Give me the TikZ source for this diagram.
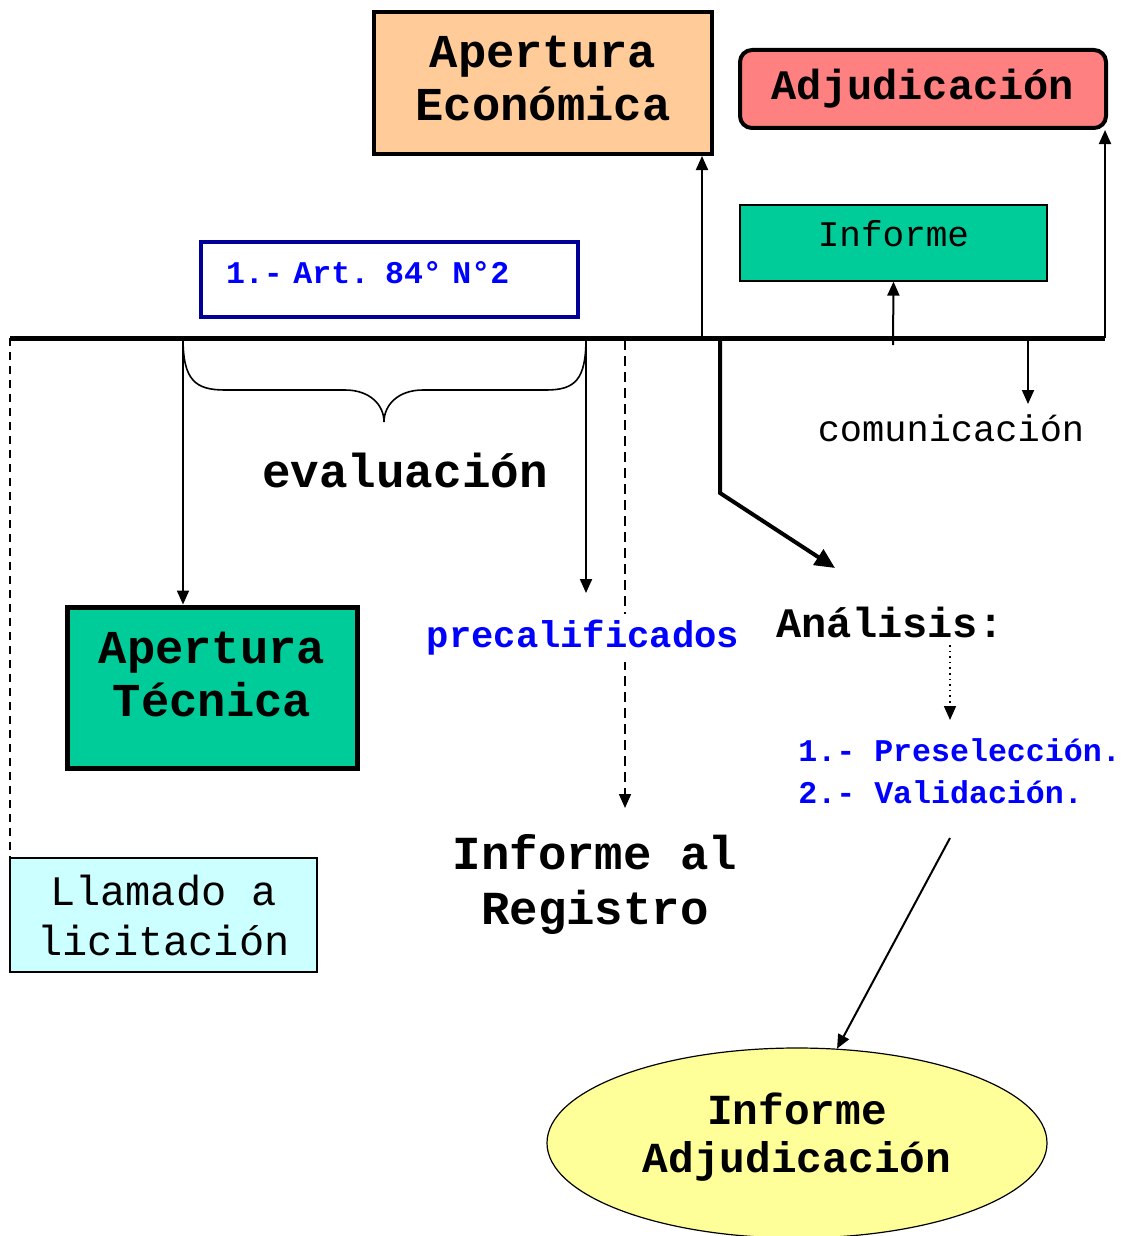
\documentclass[tikz,border=0pt]{standalone}
\usepackage{fontspec}
\setmainfont{Liberation Mono}
\usetikzlibrary{arrows.meta,shapes.geometric}

\definecolor{peach}{HTML}{FFCC99}
\definecolor{salmon}{HTML}{FF8080}
\definecolor{sea}{HTML}{00CC99}
\definecolor{paleblue}{HTML}{CCFFFF}
\definecolor{paleyellow}{HTML}{FFFF99}
\definecolor{navy}{HTML}{000099}
\definecolor{pureblue}{HTML}{0000FF}

\def\fbig{\bfseries\fontsize{23.6}{26.5}\selectfont}
\def\fmid{\bfseries\fontsize{21}{24}\selectfont}
\def\fsmall{\bfseries\fontsize{15.8}{21}\selectfont}

\tikzset{
	box/.style={draw, line width=2pt, align=center, inner sep=0pt},
	thinbox/.style={draw, line width=0.6pt, align=center, inner sep=0pt},
	label/.style={align=center, inner sep=0pt},
	conn/.style={line width=1pt, -{Triangle[length=7pt,width=6pt]}},
	bigconn/.style={line width=2pt, -{Triangle[length=10pt,width=9pt]}},
}

\begin{document}
\begin{tikzpicture}[x=0.5pt, y=-0.5pt]
	\useasboundingbox (0,0) rectangle (1126,1236);

	\node[box, fill=peach, minimum width=169pt, minimum height=71pt, text depth=5pt, font=\fbig] (econ) at (543,83) {Apertura\\Económica};
	\node[box, fill=salmon, rounded corners=6pt, minimum width=183pt, minimum height=39pt, font=\fmid] (adj) at (923,89) {Adjudicación};
	\node[thinbox, fill=sea, minimum width=153.5pt, minimum height=38pt, text height=12pt, text depth=9pt, font=\fontsize{18}{20}\selectfont] (inf) at (893.5,243) {Informe};
	\node[box, draw=navy, text=pureblue, minimum width=188.5pt, minimum height=37.5pt, text width=163.5pt, text height=12pt, text depth=8pt, align=left, font=\fsmall] (art) at (389.5,279.5) {1.- Art. 84° N°2};
	\node[box, line width=2.5pt, fill=sea, minimum width=145pt, minimum height=80.5pt, text depth=13pt, font=\fbig] (tec) at (212,687.5) {Apertura\\Técnica};
	\node[thinbox, fill=paleblue, minimum width=153.5pt, minimum height=57pt, font=\fontsize{21}{25}\selectfont] (llam) at (163.5,915) {Llamado a\\licitación};
	\node[thinbox, ellipse, fill=paleyellow, minimum width=250pt, minimum height=95pt, text depth=10pt, font=\bfseries\fontsize{21.4}{24}\selectfont] (infadj) at (797,1143) {Informe\\Adjudicación};

	\node[label, font=\bfseries\fontsize{23.8}{27}\selectfont] (eval) at (405,470) {evaluación};
	\node[label, font=\fontsize{18.5}{21}\selectfont] (comunic) at (951,428) {comunicación};
	\node[label, font=\fmid] (analisis) at (890,622) {Análisis:};
	\node[label, anchor=west, align=left, text=pureblue, font=\fsmall] (lista) at (798,771) {1.- Preselección.\\2.- Validación.};
	\node[label, font=\bfseries\fontsize{23.7}{27.5}\selectfont] (registro) at (595,884) {Informe al\\Registro};

	\coordinate (lineL) at (10,338);
	\coordinate (lineR) at (1105,338);
	\coordinate (pT) at (183,338);
	\coordinate (pP) at (586,338);
	\coordinate (pD) at (625,340);
	\coordinate (pE) at (702,338);
	\coordinate (pA) at (720,338);
	\coordinate (kA) at (720,493);
	\coordinate (aA) at (835,568);
	\coordinate (pI) at (893,345);
	\coordinate (pC) at (1028,338);

	\draw[line width=0.6pt, dash pattern=on 4pt off 3pt] (lineL) -- (lineL |- llam.north);
	\draw[line width=0.8pt, dash pattern=on 5pt off 3pt, -{Triangle[length=7pt,width=6pt]}] (pD) -- (625,808);
	\node[label, fill=white, inner ysep=3pt, text=pureblue, font=\bfseries\fontsize{18.6}{21}\selectfont] (precal) at (583,638) {precalificados};

	\draw[line width=0.8pt] (pT) .. controls (183,380) and (195,390) .. (225,390) -- (345,390)
		.. controls (370,390) and (384,405) .. (384,422)
		.. controls (384,405) and (398,390) .. (423,390) -- (546,390)
		.. controls (575,390) and (586,380) .. (pP);
	\draw[conn] (pT) -- (pT |- tec.north);
	\draw[conn] (pP) -- (586,593);
	\draw[conn] (pE) -- (pE |- econ.south);
	\draw[conn] (lineR) -- (lineR |- adj.south);
	\draw[conn] (pI) -- (inf.south);
	\draw[conn, shorten >=5pt] (pC) -- (pC |- comunic.north);
	\draw[bigconn] (pA) -- (kA) -- (aA);
	\draw[line width=0.8pt, dotted, -{Triangle[length=7pt,width=6pt]}] (950,645) -- (950,720);
	\draw[conn] (950,838) -- (infadj.67);

	\draw[line width=2.5pt] (lineL) -- (lineR);
\end{tikzpicture}
\end{document}
